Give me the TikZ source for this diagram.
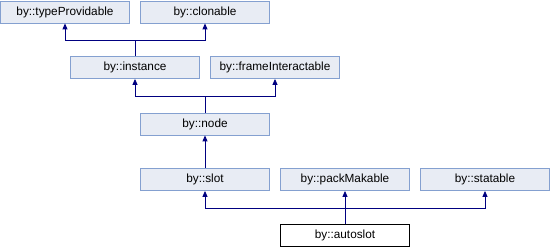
\documentclass[tikz,border=0pt]{standalone}
\usepackage{fontspec}
\setmainfont{Liberation Sans}
\usetikzlibrary{arrows.meta}
\definecolor{boxfill}{RGB}{232,236,244}
\definecolor{boxline}{RGB}{132,160,208}
\definecolor{linkcol}{RGB}{0,0,128}
\tikzset{
  cls/.style={draw=boxline, fill=boxfill, line width=0.8pt, minimum width=129pt, minimum height=22pt, inner sep=0pt, font=\fontsize{11.8}{13}\selectfont},
  cur/.style={cls, draw=black, fill=white},
  inh/.style={draw=linkcol, line width=0.9pt},
  inha/.style={inh, -{Triangle[width=5pt,length=6pt]}}
}
\begin{document}
\begin{tikzpicture}[x=1pt,y=-1pt]
\useasboundingbox (0,0) rectangle (550,248);
\node[cls] (tp) at (65,12) {by::typeProvidable};
\node[cls] (cl) at (205,12) {by::clonable};
\node[cls] (in) at (135,67.5) {by::instance};
\node[cls] (fi) at (275,67.5) {by::frameInteractable};
\node[cls] (nd) at (205,124) {by::node};
\node[cls] (sl) at (205,179.5) {by::slot};
\node[cls] (pm) at (345,179.5) {by::packMakable};
\node[cls] (st) at (485,179.5) {by::statable};
\node[cur] (au) at (345,235.5) {by::autoslot};
\coordinate (b1) at (135,40);
\coordinate (b2) at (205,96);
\coordinate (b4) at (345,208);
\draw[inh] (in.north) -- (b1);
\draw[inha] (b1) -| (tp.south);
\draw[inha] (b1) -| (cl.south);
\draw[inh] (nd.north) -- (b2);
\draw[inha] (b2) -| (in.south);
\draw[inha] (b2) -| (fi.south);
\draw[inha] (nd.south |- sl.north) -- (nd.south);
\draw[inh] (au.north) -- (b4);
\draw[inha] (b4) -- (pm.south);
\draw[inha] (b4) -| (sl.south);
\draw[inha] (b4) -| (st.south);
\end{tikzpicture}
\end{document}
